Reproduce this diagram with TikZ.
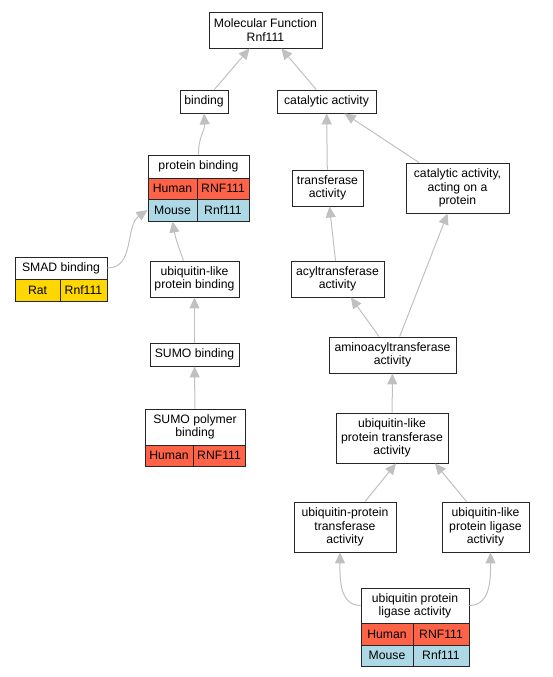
\documentclass[tikz,border=0pt]{standalone}
\usepackage{fontspec}
\setmainfont{Liberation Sans}
\usetikzlibrary{arrows.meta}
\definecolor{edgegray}{HTML}{C0C0C0}
\definecolor{humanc}{HTML}{FF6347}
\definecolor{mousec}{HTML}{ADD8E6}
\definecolor{ratc}{HTML}{FFD700}
\begin{document}
\begin{tikzpicture}[x=1pt,y=-1pt,
  term/.style={draw=black!85,line width=0.9pt,fill=white,inner sep=0pt,align=center,
    font=\fontsize{12.2}{13.3}\selectfont},
  cellbox/.style={draw=black!85,line width=0.9pt,inner sep=0pt,align=center,
    font=\fontsize{12.2}{13.3}\selectfont},
  isa/.style={draw=edgegray,line width=1pt,-{Triangle[length=11pt,width=10pt]}}]
\useasboundingbox (0,0) rectangle (553,677);
% nodes
\node[term,minimum width=113pt,minimum height=36pt] (mf) at (265.5,30) {Molecular Function\\Rnf111};
\node[term,minimum width=48pt,minimum height=23pt] (bind) at (204,101.5) {binding};
\node[term,minimum width=99pt,minimum height=23pt] (cat) at (326.5,101.5) {catalytic activity};
% protein binding table
\node[term,minimum width=101pt,minimum height=23pt] (pb) at (198.5,166.5) {protein binding};
\node[cellbox,fill=humanc,minimum width=49pt,minimum height=21pt] (pbh1) at (172.5,188.5) {Human};
\node[cellbox,fill=humanc,minimum width=52pt,minimum height=21pt] (pbh2) at (223,188.5) {RNF111};
\node[cellbox,fill=mousec,minimum width=49pt,minimum height=22pt] (pbm1) at (172.5,210) {Mouse};
\node[cellbox,fill=mousec,minimum width=52pt,minimum height=22pt] (pbm2) at (223,210) {Rnf111};
\node[term,minimum width=71pt,minimum height=36pt] (trans) at (327.5,188) {transferase\\activity};
\node[term,minimum width=103pt,minimum height=50pt] (catp) at (457.5,188) {catalytic activity,\\acting on a\\protein};
% SMAD binding table
\node[term,minimum width=92pt,minimum height=22pt] (smad) at (61,268) {SMAD binding};
\node[cellbox,fill=ratc,minimum width=45pt,minimum height=22pt] (smr1) at (37.5,290) {Rat};
\node[cellbox,fill=ratc,minimum width=47pt,minimum height=22pt] (smr2) at (83.5,290) {Rnf111};
\node[term,minimum width=89pt,minimum height=36pt] (ublb) at (194.5,279) {ubiquitin-like\\protein binding};
\node[term,minimum width=93pt,minimum height=36pt] (acyl) at (337.5,279) {acyltransferase\\activity};
\node[term,minimum width=89pt,minimum height=23pt] (sumob) at (194.5,354.5) {SUMO binding};
\node[term,minimum width=127pt,minimum height=36pt] (amino) at (392.5,355) {aminoacyltransferase\\activity};
% SUMO polymer binding table
\node[term,minimum width=100pt,minimum height=36pt] (sumop) at (195,427) {SUMO polymer\\binding};
\node[cellbox,fill=humanc,minimum width=48pt,minimum height=21pt] (sph1) at (169,455.5) {Human};
\node[cellbox,fill=humanc,minimum width=52pt,minimum height=21pt] (sph2) at (219,455.5) {RNF111};
\node[term,minimum width=112pt,minimum height=50pt] (ubltr) at (392,438) {ubiquitin-like\\protein transferase\\activity};
\node[term,minimum width=102pt,minimum height=50pt] (ubpt) at (345,527) {ubiquitin-protein\\transferase\\activity};
\node[term,minimum width=87pt,minimum height=50pt] (ublig) at (485.5,527) {ubiquitin-like\\protein ligase\\activity};
% ubiquitin protein ligase activity table
\node[term,minimum width=108pt,minimum height=35pt] (upl) at (415,605.5) {ubiquitin protein\\ligase activity};
\node[cellbox,fill=humanc,minimum width=52pt,minimum height=22pt] (uph1) at (387,634) {Human};
\node[cellbox,fill=humanc,minimum width=56pt,minimum height=22pt] (uph2) at (441,634) {RNF111};
\node[cellbox,fill=mousec,minimum width=52pt,minimum height=21pt] (upm1) at (387,655.5) {Mouse};
\node[cellbox,fill=mousec,minimum width=56pt,minimum height=21pt] (upm2) at (441,655.5) {Rnf111};
% edges
\draw[isa] (bind) -- (mf);
\draw[isa] (cat) -- (mf);
\draw[isa] (pb.north) to[out=92,in=-86] (bind.south);
\draw[isa] (trans) -- (cat);
\draw[isa] (catp) -- (cat);
\draw[isa] (smad.east) to[out=0,in=215] (pbm1.west);
\draw[isa] ([xshift=-11pt]ublb.north) to[out=110,in=-80] (pbm1.south);
\draw[isa] (acyl) -- (trans);
\draw[isa] (sumob) -- (ublb);
\draw[isa] (amino) -- (acyl);
\draw[isa] (amino) -- (catp);
\draw[isa] (sumop) -- (sumob);
\draw[isa] (ubltr) -- (amino);
\draw[isa] ([xshift=20pt]ubpt.north) -- ([xshift=4pt]ubltr.south);
\draw[isa] ([xshift=-19pt]ublig.north) -- ([xshift=43pt]ubltr.south);
\draw[isa] (upl.west) to[out=180,in=-90] ([xshift=-5pt]ubpt.south);
\draw[isa] (upl.east) to[out=0,in=-90] ([xshift=5pt]ublig.south);
\end{tikzpicture}
\end{document}
